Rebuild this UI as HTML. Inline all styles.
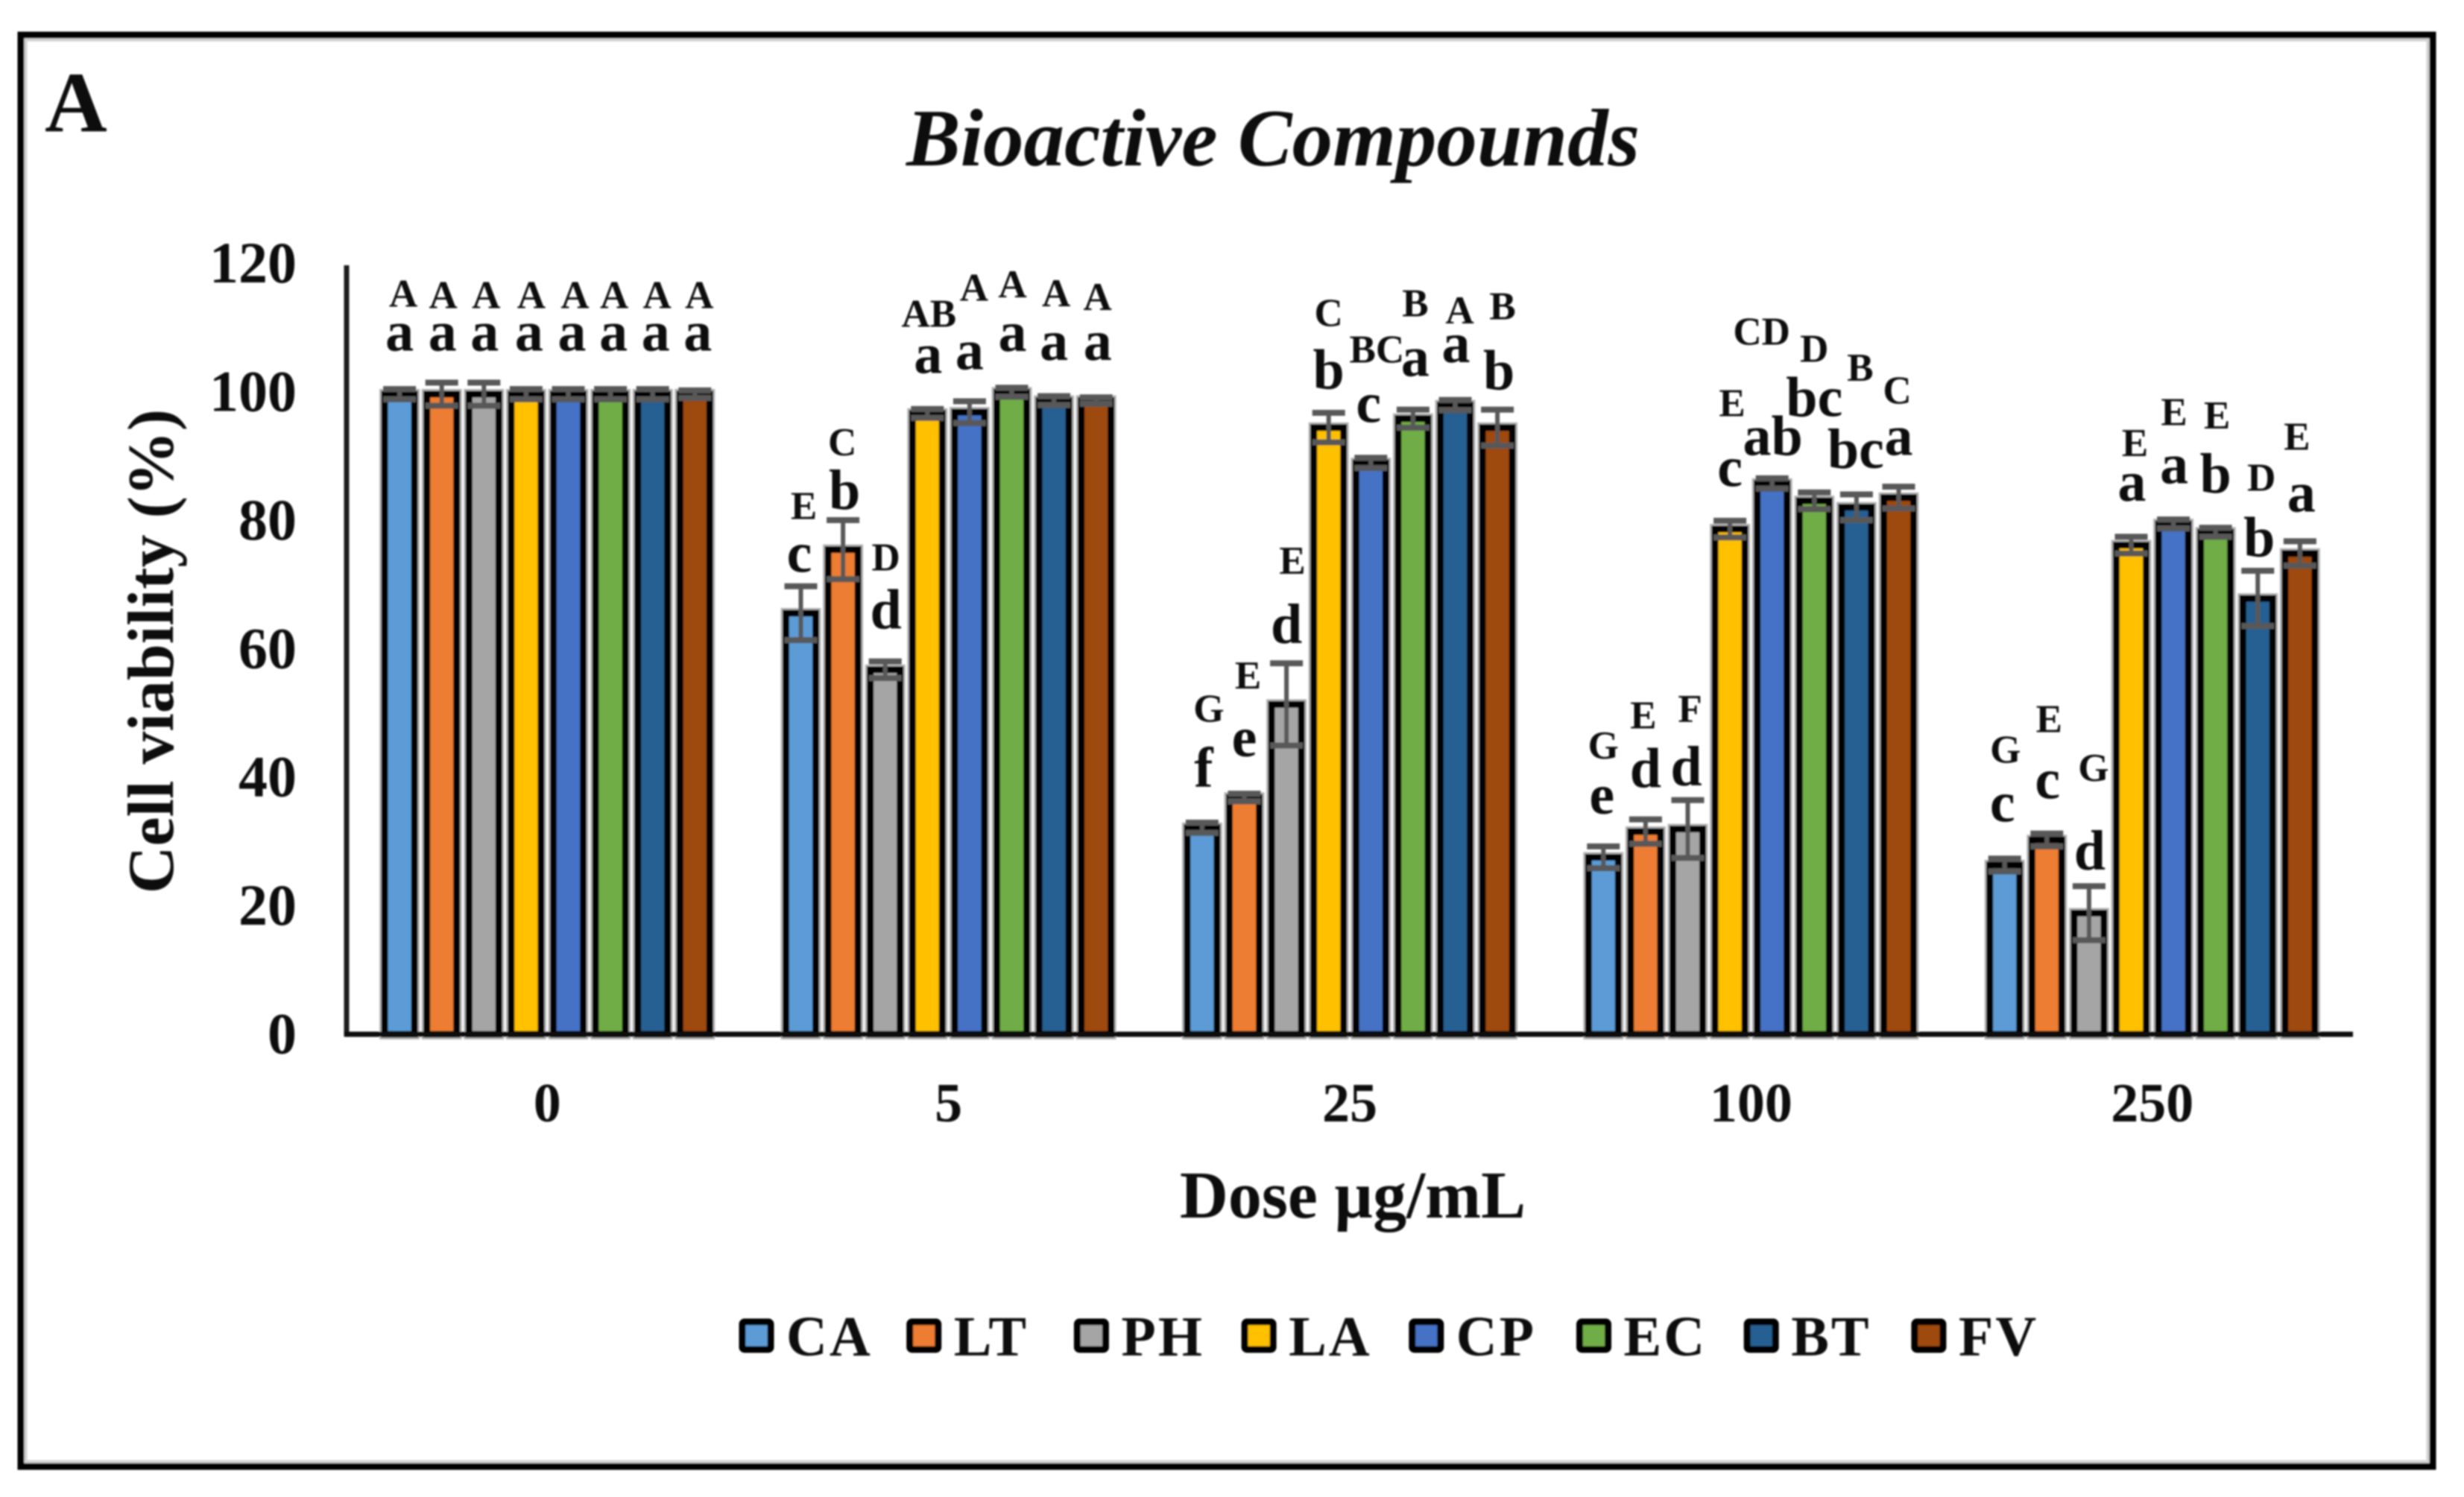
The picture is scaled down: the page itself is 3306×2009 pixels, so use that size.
<!DOCTYPE html>
<html lang="en">
<head>
<meta charset="utf-8">
<title>Bioactive Compounds – Cell viability</title>
<style>
html,body{margin:0;padding:0;background:#fff;width:3306px;height:2009px;overflow:hidden}
svg{display:block;font-family:"Liberation Serif",serif}
text{font-weight:bold;fill:#0b0b0b}
</style>
</head>
<body>
<svg id="chart" xmlns="http://www.w3.org/2000/svg" width="3306" height="2009" viewBox="0 0 3306 2009">
  <defs>
    <filter id="soft" x="-2%" y="-2%" width="104%" height="104%"><feGaussianBlur stdDeviation="1.1"/></filter>
  </defs>
  <g id="root" filter="url(#soft)">
    <rect x="33" y="52" width="3226" height="1911" fill="none" stroke="#d2d2d2" stroke-width="7"/>
    <rect x="28" y="47" width="3236" height="1921" fill="none" stroke="#000" stroke-width="9"/>
    <text x="60" y="176" font-size="116">A</text>
    <text x="1708" y="222" font-size="109" font-style="italic" text-anchor="middle">Bioactive Compounds</text>
    <text transform="translate(232 874) rotate(-90)" font-size="88" text-anchor="middle">Cell viability (%)</text>
    <text x="1815" y="1634" font-size="90" text-anchor="middle">Dose µg/mL</text>
    <g id="bars"></g>
    <g id="errors"></g>
    <g id="letters"></g>
    <g id="axes"></g>
    <g id="legend"></g>
  </g>
</svg>
<script>
var categories = ['0', '5', '25', '100', '250'];
var seriesNames = ['CA', 'LT', 'PH', 'LA', 'CP', 'EC', 'BT', 'FV'];
var yTicks = [0, 20, 40, 60, 80, 100, 120];

var valuesCA = [100, 65.9, 32.5, 27.9, 26.7];
var valuesLT = [100, 75.8, 37.2, 31.9, 30.6];
var valuesPH = [100, 57.1, 51.7, 32.3, 19.2];
var valuesLA = [100, 97, 94.8, 79, 76.5];
var valuesCP = [100, 97.2, 89.3, 86.1, 79.8];
var valuesEC = [100, 100.3, 96.2, 83.4, 78.5];
var valuesBT = [100, 99, 98.3, 82.4, 68.2];
var valuesFV = [100, 99, 94.8, 83.9, 75.2];

var errorsCA = [0.8, 4.2, 0.8, 1.7, 1];
var errorsLT = [1.8, 4.6, 0.6, 1.9, 1];
var errorsPH = [1.8, 1.3, 6.4, 4.5, 4.2];
var errorsLA = [0.8, 0.7, 2.3, 1.3, 1.3];
var errorsCP = [0.8, 1.7, 0.8, 0.8, 0.7];
var errorsEC = [0.8, 0.7, 1.4, 1.3, 0.7];
var errorsBT = [0.8, 0.7, 0.8, 2, 4.3];
var errorsFV = [0.6, 0.5, 2.8, 1.7, 1.9];

var lowerLetters = [
  ['a','a','a','a','a','a','a','a'],
  ['c','b','d','a','a','a','a','a'],
  ['f','e','d','b','c','a','a','b'],
  ['e','d','d','c','ab','bc','bc','a'],
  ['c','c','d','a','a','b','b','a']
];
var upperLetters = [
  ['A','A','A','A','A','A','A','A'],
  ['E','C','D','AB','A','A','A','A'],
  ['G','E','E','C','BC','B','A','B'],
  ['G','E','F','E','CD','D','B','C'],
  ['G','E','G','E','E','E','D','E']
];

/* Hand-placed label layout, kept apart from the data: gap above each bar and sideways nudge */
var lowerRise = [
  [55,55,55,55,55,55,55,55],
  [52,51,52,51,54,52,51,51],
  [52,52,79,49,51,54,54,48],
  [55,56,55,54,35,110,49,54],
  [55,52,55,56,51,50,53,53]
];
var upperRise = [
  [114,112,112,112,112,112,112,112],
  [123,123,130,113,146,124,123,118],
  [139,143,172,133,131,134,106,142],
  [129,135,140,148,183,183,166,123],
  [134,141,174,116,129,136,141,136]
];
var lowerNudge = [
  [0,1,1,4,5,4,4,4],
  [-2,2,1,1,0,1,0,2],
  [2,0,0,0,-3,3,1,2],
  [-2,0,-2,0,1,0,-1,0],
  [-3,1,1,1,1,0,2,2]
];
var upperNudge = [
  [5,2,3,7,9,5,6,6],
  [4,-1,1,2,6,1,3,2],
  [9,5,8,0,8,3,6,7],
  [0,-3,3,3,-14,0,5,-2],
  [1,3,6,5,1,2,5,-4]
];

var seriesValues = [valuesCA, valuesLT, valuesPH, valuesLA, valuesCP, valuesEC, valuesBT, valuesFV];
var seriesErrors = [errorsCA, errorsLT, errorsPH, errorsLA, errorsCP, errorsEC, errorsBT, errorsFV];
var seriesColors = ['#5B9BD5', '#ED7D31', '#A5A5A5', '#FFC000', '#4472C4', '#70AD47', '#255E91', '#9E480E'];

var NS = 'http://www.w3.org/2000/svg';
var plotLeft = 465, plotRight = 3157, axisY = 1388;
var zeroY = 1391, unitPx = 8.62, barPitch = 56.6;

function yScale(v) { return zeroY - v * unitPx; }
function groupCenter(g) { return plotLeft + (plotRight - plotLeft) / categories.length * (g + 0.5); }
function barCenter(g, s) { return groupCenter(g) + (s - (seriesNames.length - 1) / 2) * barPitch; }

function make(parent, tag, props, content) {
  var el = document.createElementNS(NS, tag);
  for (var k in props) el.setAttribute(k, props[k]);
  if (content !== undefined) el.textContent = content;
  parent.appendChild(el);
  return el;
}

var barsG = document.getElementById('bars');
var errorsG = document.getElementById('errors');
var lettersG = document.getElementById('letters');
var axesG = document.getElementById('axes');
var legendG = document.getElementById('legend');

categories.forEach(function (cat, g) {
  seriesNames.forEach(function (name, s) {
    var v = seriesValues[s][g], e = seriesErrors[s][g];
    var cx = barCenter(g, s), top = yScale(v);
    var h = axisY - top;

    var halo = make(barsG, 'rect', { x: cx - 20, y: top, width: 40, height: h, fill: 'none', stroke: '#b4b4b4', 'stroke-width': 14 });
    
    

    var bar = make(barsG, 'rect', { x: cx - 20, y: top, width: 40, height: h, fill: seriesColors[s], stroke: '#050505', 'stroke-width': 9 });
    
    

    var upper = yScale(v + e), lower = yScale(v - e);
    var stem = make(errorsG, 'line', { x1: cx, x2: cx, y1: upper, y2: lower, stroke: '#595959', 'stroke-width': 6 });
    
    
    var capTop = make(errorsG, 'line', { x1: cx - 22, x2: cx + 22, y1: upper, y2: upper, stroke: '#595959', 'stroke-width': 8 });
    
    
    var capBottom = make(errorsG, 'line', { x1: cx - 22, x2: cx + 22, y1: lower, y2: lower, stroke: '#595959', 'stroke-width': 8 });
    
    

    var low = make(lettersG, 'text', { x: cx + lowerNudge[g][s], y: top - 3.5 - lowerRise[g][s], 'font-size': 76, 'text-anchor': 'middle' }, lowerLetters[g][s]);
    
    
    var up = make(lettersG, 'text', { x: cx + upperNudge[g][s], y: top - 3.5 - upperRise[g][s], 'font-size': 53, 'text-anchor': 'middle' }, upperLetters[g][s]);
    
    
  });

  var catLabel = make(axesG, 'text', { x: groupCenter(g), y: 1505, 'font-size': 74, 'text-anchor': 'middle' }, cat);
  
  
});

yTicks.forEach(function (t) {
  var lab = make(axesG, 'text', { x: 398, y: yScale(t) + 22.5, 'font-size': 78, 'text-anchor': 'end' }, String(t));
  
  
});

var yAxis = make(axesG, 'line', { x1: plotLeft, x2: plotLeft, y1: 356, y2: axisY + 3, stroke: '#1a1a1a', 'stroke-width': 7 });


var xAxis = make(axesG, 'line', { x1: plotLeft - 3, x2: plotRight, y1: axisY, y2: axisY, stroke: '#0a0a0a', 'stroke-width': 7 });



seriesNames.forEach(function (name, s) {
  var x = 992 + s * 224.7;
  var sw = make(legendG, 'rect', { x: x + 4, y: 1774, width: 38, height: 37, rx: 3, fill: seriesColors[s], stroke: '#050505', 'stroke-width': 9 });
  
  
  var tx = make(legendG, 'text', { x: 1055 + s * 224.7, y: 1819, 'font-size': 76, 'letter-spacing': 3 }, name);
  
  
});
</script>
</body>
</html>
